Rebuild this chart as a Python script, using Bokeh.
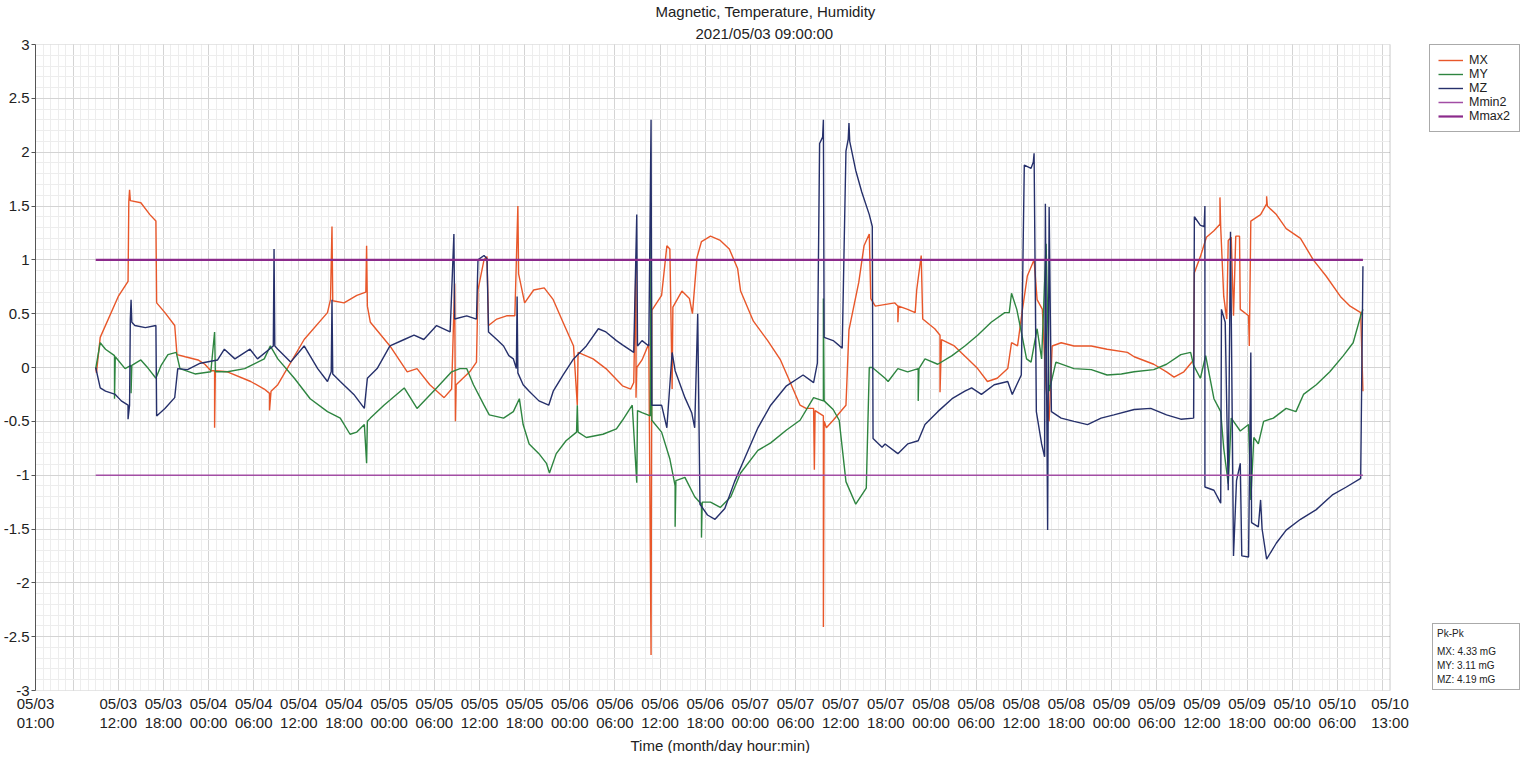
from bokeh.plotting import figure
from bokeh.models import Range1d, FixedTicker, Title, Legend, LegendItem, BoxAnnotation
from bokeh.embed import file_html
from bokeh.resources import INLINE

FONT = "Liberation Sans"

# ---- data: hours since 05/03 00:00, values in mG ----
mx_hours = [9.0, 9.1, 9.6, 12.0, 13.3, 13.4, 13.5, 13.6, 15.0, 16.2, 17.0, 17.1, 18.2, 19.5, 19.8, 20.9,
            22.6, 23.5, 24.3, 24.8, 24.8, 24.9, 26.5, 29.6, 31.4, 32.1, 32.1, 32.3, 33.2, 36.7, 39.8, 40.2,
            40.4, 40.5, 42.0, 43.7, 44.9, 45.0, 45.1, 45.5, 48.1, 50.4, 51.7, 53.4, 55.3, 56.3, 56.7, 56.8,
            56.9, 58.7, 59.6, 59.8, 60.6, 61.0, 61.2, 62.3, 63.6, 64.7, 65.1, 65.2, 66.0, 67.2, 68.6, 69.8,
            71.1, 72.5, 73.0, 73.1, 75.1, 76.8, 79.0, 80.1, 80.5, 80.8, 80.8, 80.9, 81.6, 82.5, 82.8, 82.9,
            84.2, 84.9, 85.3, 85.6, 85.7, 86.9, 87.9, 88.3, 88.9, 89.5, 90.7, 92.0, 93.2, 94.3, 94.7, 96.4,
            98.3, 100.0, 101.3, 102.6, 103.4, 104.4, 104.5, 104.6, 105.7, 105.7, 105.8, 106.1, 107.0, 108.7, 109.1, 110.4,
            111.1, 111.8, 112.0, 112.6, 115.2, 115.6, 115.6, 115.7, 116.9, 117.9, 118.1, 118.7, 118.9, 120.5, 121.2, 121.2,
            121.4, 123.1, 124.9, 126.2, 127.5, 128.8, 130.2, 130.7, 131.5, 132.1, 132.8, 133.7, 134.1, 134.8, 135.3, 135.7,
            136.1, 137.3, 139.0, 141.3, 143.4, 146.1, 147.0, 149.6, 151.3, 152.3, 153.6, 154.9, 155.0, 155.8, 156.6, 157.6,
            158.4, 158.4, 158.5, 158.9, 159.3, 159.5, 159.9, 160.2, 160.5, 161.0, 161.1, 162.2, 162.3, 162.5, 163.8, 164.6,
            164.6, 164.7, 165.9, 167.2, 169.1, 170.8, 172.5, 174.4, 175.7, 177.1, 177.4]
mx_values = [0.00, -0.05, 0.28, 0.66, 0.80, 1.54, 1.65, 1.55, 1.53, 1.42, 1.36, 0.60, 0.51, 0.39, 0.12, 0.10,
             0.07, 0.03, -0.03, -0.03, -0.56, -0.03, -0.04, -0.13, -0.20, -0.24, -0.40, -0.22, -0.16, 0.26, 0.51, 0.63,
             1.31, 0.62, 0.60, 0.67, 0.70, 1.13, 0.57, 0.42, 0.20, -0.04, -0.01, -0.16, -0.28, -0.20, 0.78, -0.50,
             -0.16, -0.04, 0.05, 0.72, 1.00, 1.03, 0.39, 0.45, 0.48, 0.48, 1.50, 0.87, 0.60, 0.72, 0.74, 0.63,
             0.42, 0.20, -0.35, 0.14, 0.08, -0.01, -0.17, -0.20, -0.14, 0.99, -0.28, 0.00, 0.07, 0.22, -2.67, 0.53,
             0.67, 1.13, 1.10, -0.20, 0.56, 0.71, 0.64, 0.50, 1.02, 1.17, 1.22, 1.18, 1.10, 0.92, 0.71, 0.43,
             0.25, 0.07, -0.14, -0.35, -0.38, -0.38, -0.95, -0.40, -0.45, -2.41, -0.50, -0.56, -0.49, -0.35, 0.35, 0.79,
             1.13, 1.24, 0.64, 0.57, 0.60, 0.57, 0.42, 0.57, 0.54, 0.51, 0.72, 1.04, 0.45, 0.36, 0.30, -0.23,
             0.26, 0.20, 0.08, -0.01, -0.13, -0.10, -0.01, 0.23, 0.20, 0.51, 0.85, 1.00, 0.63, 0.54, -0.20, -0.50,
             0.20, 0.23, 0.20, 0.20, 0.17, 0.14, 0.10, 0.03, -0.04, -0.09, -0.04, 0.07, 0.88, 1.03, 1.21, 1.27,
             1.33, 1.58, 1.30, 0.66, 0.45, 1.18, 1.21, 0.48, 1.22, 1.22, 0.54, 0.48, 0.20, 1.36, 1.42, 1.52,
             1.59, 1.50, 1.42, 1.29, 1.20, 1.00, 0.85, 0.66, 0.57, 0.51, -0.22]

my_hours = [9.0, 9.6, 10.3, 11.5, 11.5, 11.6, 12.9, 13.7, 13.7, 13.8, 15.0, 16.0, 17.0, 17.7, 18.6, 19.7,
            20.2, 22.2, 24.3, 24.8, 24.9, 26.5, 28.8, 31.4, 32.2, 33.2, 35.4, 37.5, 39.8, 41.5, 42.8, 43.7,
            44.7, 45.0, 45.1, 45.5, 47.3, 50.0, 51.7, 54.3, 56.3, 57.4, 58.3, 59.2, 60.6, 61.3, 63.2, 64.5,
            65.3, 65.8, 66.6, 67.9, 68.9, 69.3, 70.2, 71.5, 72.9, 73.0, 73.1, 74.2, 76.4, 78.2, 79.0, 80.3,
            80.9, 81.0, 81.6, 82.7, 82.8, 82.9, 84.2, 85.3, 86.0, 86.0, 86.1, 87.3, 88.6, 89.5, 89.5, 89.6,
            90.7, 92.0, 93.4, 94.7, 97.0, 98.7, 100.8, 102.6, 104.4, 105.7, 105.7, 105.8, 107.0, 107.8, 108.7, 110.0,
            111.4, 111.8, 112.2, 113.9, 114.3, 115.6, 116.9, 118.3, 118.3, 118.4, 119.2, 120.9, 122.8, 124.5, 126.2, 128.0,
            129.8, 130.4, 130.7, 131.4, 132.0, 132.7, 133.3, 134.1, 134.7, 135.3, 135.7, 136.6, 139.0, 141.3, 143.4, 145.3,
            147.0, 149.6, 151.3, 153.2, 154.5, 154.9, 155.8, 156.5, 157.6, 158.5, 158.9, 159.5, 159.9, 161.1, 162.2, 162.5,
            162.9, 163.5, 164.2, 165.5, 167.2, 168.5, 169.5, 171.2, 173.0, 174.8, 176.1, 177.1, 177.4]
my_values = [-0.01, 0.23, 0.17, 0.11, -0.29, 0.10, -0.01, 0.02, -0.24, 0.02, 0.07, -0.01, -0.10, 0.02, 0.12, 0.14,
             -0.01, -0.06, -0.04, 0.33, -0.04, -0.04, -0.01, 0.08, 0.20, 0.08, -0.10, -0.29, -0.41, -0.47, -0.62, -0.60,
             -0.53, -0.89, -0.50, -0.47, -0.35, -0.19, -0.38, -0.19, -0.04, -0.01, -0.01, -0.16, -0.35, -0.44, -0.47, -0.41,
             -0.29, -0.53, -0.71, -0.80, -0.89, -0.98, -0.80, -0.68, -0.60, -0.35, -0.60, -0.65, -0.62, -0.57, -0.49, -0.35,
             -1.07, -0.40, -0.42, -0.45, 1.48, -0.49, -0.60, -0.85, -1.10, -1.48, -1.05, -1.02, -1.20, -1.27, -1.58, -1.25,
             -1.25, -1.30, -1.20, -0.98, -0.77, -0.70, -0.58, -0.49, -0.28, -0.31, 0.64, -0.31, -0.39, -0.49, -1.06, -1.27,
             -1.12, 0.00, 0.00, -0.10, -0.13, -0.01, -0.04, -0.01, -0.31, -0.01, 0.08, 0.03, 0.11, 0.20, 0.30, 0.42,
             0.51, 0.51, 0.69, 0.54, 0.33, 0.08, 0.05, 0.36, 0.08, 1.15, -0.22, 0.05, -0.01, -0.02, -0.07, -0.06,
             -0.04, -0.02, 0.03, 0.12, 0.14, 0.02, -0.10, 0.11, -0.29, -0.41, -0.75, -1.08, -0.47, -0.59, -0.53, -1.23,
             -0.65, -0.71, -0.50, -0.47, -0.38, -0.41, -0.25, -0.16, -0.04, 0.11, 0.23, 0.48, 0.54]

mz_hours = [9.0, 9.6, 10.3, 11.6, 12.4, 13.3, 13.3, 13.5, 13.6, 13.7, 13.8, 14.2, 15.6, 17.0, 17.1, 18.2,
            19.5, 19.9, 21.2, 22.9, 25.2, 26.1, 27.5, 29.5, 30.5, 32.6, 32.7, 32.8, 33.2, 34.9, 36.7, 38.5,
            39.8, 40.3, 40.4, 40.5, 41.5, 43.3, 44.7, 45.1, 46.4, 48.1, 50.0, 51.3, 52.6, 54.3, 56.1, 56.6,
            56.7, 58.3, 59.6, 59.8, 60.6, 61.0, 61.2, 62.3, 63.2, 63.9, 64.5, 64.9, 65.0, 65.1, 65.8, 66.6,
            67.9, 69.2, 69.8, 71.1, 72.5, 74.2, 75.8, 76.8, 78.2, 79.0, 80.5, 80.9, 81.0, 81.6, 82.5, 82.8,
            82.9, 84.2, 84.9, 85.6, 86.0, 87.3, 88.2, 88.6, 89.0, 89.3, 90.3, 91.3, 92.6, 93.9, 95.2, 97.0,
            98.7, 100.8, 103.0, 104.4, 104.9, 105.2, 105.6, 105.7, 105.8, 107.0, 108.2, 108.7, 109.0, 109.1, 109.2, 110.0,
            110.8, 111.8, 112.2, 112.3, 113.5, 113.9, 115.6, 116.9, 118.3, 119.2, 120.9, 122.8, 124.5, 125.4, 126.7, 128.4,
            130.2, 130.8, 132.0, 132.4, 133.3, 133.6, 133.7, 134.0, 134.7, 135.1, 135.2, 135.5, 135.7, 136.0, 137.3, 139.0,
            140.8, 142.6, 144.3, 147.0, 149.2, 151.3, 153.2, 154.9, 155.0, 155.8, 156.3, 156.4, 156.4, 157.6, 158.5, 158.6,
            159.1, 159.5, 159.8, 160.2, 160.6, 161.1, 161.3, 162.2, 162.5, 162.6, 163.5, 163.8, 164.0, 164.6, 165.9, 167.2,
            169.1, 171.2, 173.4, 175.2, 177.1, 177.4]
mz_values = [0.00, -0.19, -0.22, -0.25, -0.31, -0.35, -0.48, -0.35, 0.45, 0.63, 0.42, 0.39, 0.37, 0.39, -0.45, -0.38,
             -0.28, -0.01, -0.02, 0.04, 0.07, 0.17, 0.08, 0.17, 0.08, 0.20, 1.10, 0.20, 0.17, 0.05, 0.20, -0.01,
             -0.13, -0.04, 0.63, -0.06, -0.13, -0.25, -0.38, -0.10, -0.01, 0.20, 0.26, 0.30, 0.26, 0.39, 0.33, 1.24,
             0.45, 0.48, 0.45, 1.00, 1.04, 1.01, 0.33, 0.26, 0.20, 0.11, 0.08, -0.01, 0.66, -0.05, -0.16, -0.22,
             -0.31, -0.35, -0.22, -0.07, 0.08, 0.20, 0.36, 0.33, 0.25, 0.21, 0.14, 1.42, 0.20, 0.25, 0.20, 2.30,
             -0.35, -0.35, -0.56, 0.14, -0.03, -0.28, -0.42, -0.56, 0.50, -1.27, -1.37, -1.41, -1.31, -1.06, -0.85, -0.56,
             -0.35, -0.17, -0.07, -0.14, 0.04, 2.08, 2.14, 2.30, 0.28, 0.25, 0.18, 2.01, 2.12, 2.27, 2.10, 1.83,
             1.63, 1.42, 1.31, -0.66, -0.74, -0.71, -0.80, -0.71, -0.68, -0.53, -0.41, -0.29, -0.22, -0.19, -0.25, -0.16,
             -0.13, -0.25, -0.07, 1.88, 1.85, 1.91, 1.99, -0.41, -0.71, -0.83, 1.52, -1.51, 1.49, -0.41, -0.47, -0.50,
             -0.53, -0.47, -0.44, -0.39, -0.38, -0.44, -0.48, -0.47, 1.40, 1.32, 1.31, 1.50, -1.11, -1.14, -1.26, 0.54,
             0.42, -1.14, 1.26, -1.75, -1.05, -0.89, -1.75, -1.76, 0.14, -1.44, -1.48, -1.23, -1.50, -1.78, -1.63, -1.51,
             -1.41, -1.32, -1.18, -1.11, -1.03, 0.94]

mmin2_value = -1.0
mmax2_value = 1.0
limit_hours = [9.0, 177.4]

pkpk_names = ["MX", "MY", "MZ"]
pkpk_values = [4.33, 3.11, 4.19]

x_start, x_end = 1, 181          # 05/03 01:00 .. 05/10 13:00
x_tick_hours = [1, 6, 12, 18, 24, 30, 36, 42, 48, 54, 60, 66, 72, 78, 84, 90, 96, 102, 108, 114,
                120, 126, 132, 138, 144, 150, 156, 162, 168, 174, 180, 181]
x_tick_labels = ["05/03\n01:00", "", "05/03\n12:00", "05/03\n18:00", "05/04\n00:00", "05/04\n06:00",
                 "05/04\n12:00", "05/04\n18:00", "05/05\n00:00", "05/05\n06:00", "05/05\n12:00", "05/05\n18:00",
                 "05/06\n00:00", "05/06\n06:00", "05/06\n12:00", "05/06\n18:00", "05/07\n00:00", "05/07\n06:00",
                 "05/07\n12:00", "05/07\n18:00", "05/08\n00:00", "05/08\n06:00", "05/08\n12:00", "05/08\n18:00",
                 "05/09\n00:00", "05/09\n06:00", "05/09\n12:00", "05/09\n18:00", "05/10\n00:00", "05/10\n06:00",
                 "", "05/10\n13:00"]
y_ticks = [-3.0, -2.5, -2.0, -1.5, -1.0, -0.5, 0.0, 0.5, 1.0, 1.5, 2.0, 2.5, 3.0]
y_tick_labels = ["-3", "-2.5", "-2", "-1.5", "-1", "-0.5", "0", "0.5", "1", "1.5", "2", "2.5", "3"]

# ---- layout (pixels) ----
W, H = 1520, 753
LEFT, RIGHT = 29, 0
PLOT_PX = 1360                      # width of the time axis area in pixels
frame_px = W - LEFT - RIGHT
x_view_end = x_start + (x_end - x_start) * frame_px / PLOT_PX   # room on the right for the side boxes

p = figure(width=W, height=H, output_backend="svg", toolbar_location=None, title=None,
           x_range=Range1d(x_start, x_view_end), y_range=Range1d(-3, 3),
           min_border_left=LEFT, min_border_right=RIGHT, min_border_top=40, min_border_bottom=40,
           background_fill_color="white", border_fill_color="white")
p.outline_line_color = None

p.xaxis.ticker = FixedTicker(ticks=x_tick_hours, minor_ticks=list(range(1, 182)))
p.xaxis.major_label_overrides = dict(zip(x_tick_hours, x_tick_labels))
p.yaxis.ticker = FixedTicker(ticks=y_ticks, minor_ticks=[round(-3 + 0.1 * i, 1) for i in range(61)])
p.yaxis.major_label_overrides = dict(zip(y_ticks, y_tick_labels))

for ax in (p.xaxis[0], p.yaxis[0]):
    ax.major_label_text_font = FONT
    ax.major_label_text_font_size = "15px"
    ax.major_label_text_color = "#222222"
    ax.major_tick_line_color = "#555555"
    ax.minor_tick_line_color = None
    ax.major_tick_in = 0

p.xaxis.axis_line_color = None
p.xaxis.major_tick_out = 0
p.xaxis.major_label_standoff = 0
p.xaxis.major_label_text_line_height = 1.15
p.yaxis.axis_line_color = "#555555"
p.yaxis.major_tick_out = 4
p.yaxis.major_label_standoff = 2

for g in (p.xgrid[0], p.ygrid[0]):
    g.grid_line_color = "#d4d4d4"
    g.minor_grid_line_color = "#ededed"

sub = Title(text="2021/05/03 09:00:00", align="left", offset=660, text_font=FONT,
            text_font_size="15px", text_font_style="normal", text_color="#222222",
            text_line_height=1.0, standoff=6)
main = Title(text="Magnetic, Temperature, Humidity", align="left", offset=620, text_font=FONT,
             text_font_size="15px", text_font_style="normal", text_color="#222222",
             text_line_height=1.0, standoff=0)
p.add_layout(sub, "above")
p.add_layout(main, "above")

xlab = Title(text="Time (month/day hour:min)", align="left", offset=595, text_font=FONT,
             text_font_size="15px", text_font_style="normal", text_color="#222222",
             text_line_height=1.0, standoff=0)
p.add_layout(xlab, "below")

c_mx, c_my, c_mz = "#e8572a", "#2e8540", "#26306b"
c_min, c_max = "#a24da4", "#8b2a8b"

r_mx = p.line(mx_hours, mx_values, line_color=c_mx, line_width=1.4)
r_my = p.line(my_hours, my_values, line_color=c_my, line_width=1.4)
r_mz = p.line(mz_hours, mz_values, line_color=c_mz, line_width=1.4)
r_min = p.line(limit_hours, [mmin2_value] * 2, line_color=c_min, line_width=1.5)
r_max = p.line(limit_hours, [mmax2_value] * 2, line_color=c_max, line_width=2.2)

# blank side area right of the time axis, then the plot frame on top of it
p.add_layout(BoxAnnotation(left=x_end, fill_color="white", fill_alpha=1.0, line_color=None))
p.add_layout(BoxAnnotation(left=x_start, right=x_end, bottom=-3, top=3, fill_alpha=0.0,
                           line_color="#555555", line_width=1))

legend = Legend(items=[LegendItem(label="MX", renderers=[r_mx]),
                       LegendItem(label="MY", renderers=[r_my]),
                       LegendItem(label="MZ", renderers=[r_mz]),
                       LegendItem(label="Mmin2", renderers=[r_min]),
                       LegendItem(label="Mmax2", renderers=[r_max])],
                location="top_right", orientation="vertical",
                label_text_font=FONT, label_text_font_size="12.5px", label_text_color="#222222",
                label_height=14, label_width=42, glyph_height=14, glyph_width=25, label_standoff=6,
                spacing=0, padding=8, margin=0,
                border_line_color="#555555", border_line_width=1, background_fill_color="white",
                background_fill_alpha=1.0)
p.add_layout(legend)

# Pk-Pk summary box (text-only legend, glyphs hidden)
pk_items = []
for n, v in zip(pkpk_names, pkpk_values):
    r = p.line([], [], line_alpha=0)
    pk_items.append(LegendItem(label=f"{n}: {v:.2f} mG", renderers=[r]))
pk_legend = Legend(items=pk_items, location="bottom_right", orientation="vertical",
                   title="Pk-Pk", title_text_font=FONT, title_text_font_size="10px",
                   title_text_font_style="normal", title_text_color="#222222", title_standoff=6,
                   label_text_font=FONT, label_text_font_size="10px", label_text_color="#222222",
                   label_height=12, label_width=78, glyph_height=12, glyph_width=0, label_standoff=0,
                   spacing=2, padding=4, margin=0,
                   border_line_color="#555555", border_line_width=1, background_fill_color="white",
                   background_fill_alpha=1.0)
p.add_layout(pk_legend)

open("out.html", "w").write(file_html(p, INLINE))
